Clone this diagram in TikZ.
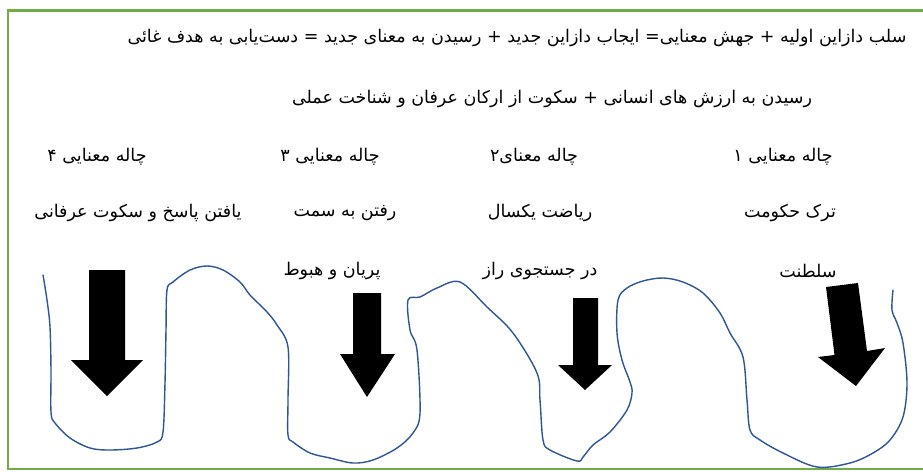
\documentclass[tikz,border=0pt]{standalone}
\usepackage{fontspec}
\TeXXeTstate=1
\newfontfamily\fa[Script=Arabic]{DejaVu Sans}
\definecolor{frame}{RGB}{112,173,71}
\definecolor{curve}{RGB}{47,85,151}
\tikzset{
  txt/.style={inner sep=0pt, font=\fa\fontsize{17.5}{20}\selectfont},
  border/.style={draw=frame, line width=2.6pt},
  wave/.style={draw=curve, line width=1.4pt, line join=round, line cap=round},
  blockarrow/.style={fill=black}
}
\begin{document}
\begin{tikzpicture}[x=1pt,y=-1pt]
\useasboundingbox (0,0) rectangle (923,471);
\fill[white] (0,0) rectangle (923,471);
% frame
\draw[border] (923,10.5) -- (8,10.5) -- (8,469) -- (923,469);
% texts
\node[txt] (l1) at (517,38) {\beginR سلب دازاین اولیه + جهش معنایی= ایجاب دازاین جدید + رسیدن به معنای جدید =  دست‌یابی به هدف غائی\endR};
\node[txt] (l2) at (552,99) {\beginR رسیدن به ارزش های انسانی + سکوت از ارکان عرفان و شناخت عملی\endR};
\node[txt] (h4) at (97,157) {\beginR چاله معنایی ۴\endR};
\node[txt] (h3) at (330,157) {\beginR چاله معنایی ۳\endR};
\node[txt] (h2) at (534,157) {\beginR چاله معنای۲\endR};
\node[txt] (h1) at (783,157) {\beginR چاله معنایی ۱\endR};
\node[txt] (a4) at (138,213) {\beginR یافتن پاسخ و سکوت عرفانی\endR};
\node[txt] (a3) at (345,213) {\beginR رفتن به سمت\endR};
\node[txt] (a2) at (540,213) {\beginR ریاضت یکسال\endR};
\node[txt] (a1) at (790,213) {\beginR ترک حکومت\endR};
\node[txt] (b3) at (332,271) {\beginR پریان و هبوط\endR};
\node[txt] (b2) at (540,271) {\beginR در جستجوی راز\endR};
\node[txt] (b1) at (808,271) {\beginR سلطنت\endR};
% wavy line
\draw[wave] plot[smooth, tension=0.55] coordinates {
(43,275) (47,300) (50,327) (51,370) (51,412) (55,423) (70,438) (90,448) (110,450) (137,448) (157,442) (163,432) (165,383) (166,330) (167,290) (173,282) (190,270) (207,266) (223,270) (240,282) (250,295) (267,312) (277,325) (288,347) (288,400) (288,435) (293,442) (310,453) (330,458) (353,463) (373,460) (397,448) (413,433) (420,413) (417,350) (410,330) (408,300) (420,297) (437,288) (460,282) (487,307) (513,333) (537,373) (540,400) (543,440) (550,450) (577,461) (583,457) (593,445) (610,432) (627,410) (632,393) (630,382) (622,360) (617,333) (618,300) (627,288) (643,281) (663,278) (683,282) (703,293) (720,313) (730,333) (743,357) (747,400) (750,430) (760,440) (783,453) (817,467) (850,463) (873,453) (890,440) (903,417) (907,383) (903,343) (897,323) (892,310) (893,290)};
% block arrows
\fill[blockarrow] (89,270) -- (125,270) -- (125,360) -- (143,360) -- (107,396) -- (71,360) -- (89,360) -- cycle;
\fill[blockarrow] (353,293) -- (381,293) -- (381,354) -- (395,354) -- (367,397) -- (340,354) -- (353,354) -- cycle;
\fill[blockarrow] (573,298) -- (598,298) -- (598,365) -- (612,365) -- (585,390) -- (558,365) -- (573,365) -- cycle;
\fill[blockarrow] (826,287) -- (858,283) -- (867,351) -- (885,348) -- (856,386) -- (818,357) -- (834.5,355) -- cycle;
\end{tikzpicture}
\end{document}
